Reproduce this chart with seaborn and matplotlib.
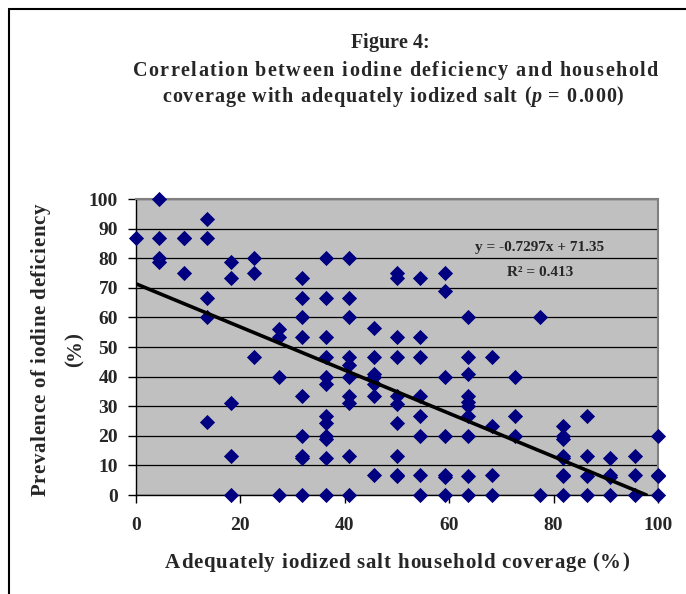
import numpy as np
import matplotlib
matplotlib.use("Agg")
import matplotlib.pyplot as plt
import seaborn as sns
from matplotlib.lines import Line2D
from matplotlib.font_manager import FontProperties, findfont
from matplotlib.ft2font import FT2Font

# household coverage with adequately iodized salt (%) and prevalence of iodine deficiency (%)
coverage = (
    [0.0]
    + [4.5] * 4
    + [9.1] * 3
    + [13.6] * 5
    + [18.2] * 5
    + [22.7] * 3
    + [27.3] * 4
    + [31.8] * 9
    + [36.4] * 12
    + [40.9] * 10
    + [45.5] * 7
    + [50.0] * 10
    + [54.5] * 8
    + [59.1] * 7
    + [63.6] * 10
    + [68.2] * 4
    + [72.7] * 3
    + [77.3] * 2
    + [81.8] * 8
    + [86.4] * 4
    + [90.9] * 4
    + [95.5] * 3
    + [100.0] * 4
)
deficiency = [
    86.7,
    100, 86.7, 80, 78.6,
    86.7, 86.7, 75,
    93.3, 86.7, 66.7, 60, 24.7,
    78.6, 73.3, 31, 13.3, 0,
    80, 75, 46.7,
    56, 53.3, 40, 0,
    73.3, 66.7, 60, 53.3, 33.3, 20, 13.3, 12.5, 0,
    80, 66.7, 53.3, 46.7, 40, 37.5, 26.7, 24.4, 20, 18.8, 12.5, 0,
    80, 66.7, 60, 46.7, 44, 40, 33.3, 31, 13.3, 0,
    56.3, 46.7, 41, 40, 37.5, 33.3, 6.7,
    75, 73.3, 53.3, 46.7, 33.3, 30.8, 24.4, 13.3, 6.7, 6.3,
    73.3, 53.3, 46.7, 33.3, 26.7, 20, 6.7, 0,
    75, 68.8, 40, 20, 6.7, 6.0, 0,
    60, 46.7, 41, 33.3, 31.5, 30, 26.7, 20, 6.3, 0,
    46.7, 23.3, 6.7, 0,
    40, 26.7, 20,
    60, 0,
    23.3, 20, 18.8, 13.3, 12.5, 6.7, 6.3, 0,
    26.7, 13.3, 6.3, 0,
    12.5, 6.7, 6.0, 0,
    13.3, 6.7, 0,
    20, 6.7, 6.3, 0,
]

# trend line as printed on the chart
slope = -0.7297
intercept = 71.35

x_ticks = [0, 20, 40, 60, 80, 100]
y_ticks = [0, 10, 20, 30, 40, 50, 60, 70, 80, 90, 100]

sns.set_theme(style="white")
plt.rcParams['font.family'] = ['Liberation Serif', 'DejaVu Serif']
plt.rcParams['font.weight'] = 'bold'

W, H = 686, 594
DPI = 100
fig = plt.figure(figsize=(W / DPI, H / DPI), dpi=DPI)
ax = fig.add_axes([136 / W, 99 / H, 522 / W, 296 / H])
ax.set_facecolor('#C0C0C0')

ax.yaxis.grid(True, color='black', linewidth=0.9)
ax.set_axisbelow(True)

sns.scatterplot(x=coverage, y=deficiency, marker='D', color='#000080',
                s=60, linewidth=0, ax=ax, clip_on=False, zorder=4)

line_x = np.array([0, -intercept / slope])
ax.plot(line_x, slope * line_x + intercept, color='black', linewidth=2.6, zorder=5)

ax.set_xlim(0, 100)
ax.set_ylim(0, 100)
ax.set_xticks(x_ticks)
ax.set_yticks(y_ticks)
ax.tick_params(axis='both', direction='out', length=6, width=1, color='black',
               labelsize=14, bottom=True, left=True)
ax.tick_params(axis='x', pad=10)
ax.tick_params(axis='y', pad=7)
for lab in ax.get_xticklabels() + ax.get_yticklabels():
    lab.set_fontweight('bold')

for side in ['left', 'bottom']:
    ax.spines[side].set_color('black')
    ax.spines[side].set_linewidth(1.0)
for side in ['top', 'right']:
    ax.spines[side].set_color('#808080')
    ax.spines[side].set_linewidth(1.5)

ax.text(0.774, 0.835, 'y = -0.7297x + 71.35', transform=ax.transAxes,
        ha='center', va='center', fontsize=11, fontweight='bold')
ax.text(0.774, 0.75, 'R² = 0.413', transform=ax.transAxes,
        ha='center', va='center', fontsize=11, fontweight='bold')


def fx(px):
    return px / W


def fy(py):
    return 1 - py / H


def spaced_text(cx, cy, segments, size, width, rotation=0):
    # the original lettering is tracked out, so place glyph by glyph
    chars = []
    for s, style in segments:
        fp = FontProperties(family='Liberation Serif', weight='bold', style=style, size=size)
        font = FT2Font(findfont(fp))
        font.set_size(size, DPI)
        for c in s:
            adv = font.load_char(ord(c)).linearHoriAdvance / 65536
            chars.append((c, fp, adv))
    natural = sum(a for _, _, a in chars)
    gap = max((width - natural) / (len(chars) - 1), 0)
    total = natural + gap * (len(chars) - 1)
    pos = -total / 2
    for c, fp, adv in chars:
        if rotation == 0:
            x, y = cx + pos, cy
        else:
            x, y = cx, cy - pos
        fig.text(fx(x), fy(y), c, fontproperties=fp, rotation=rotation,
                 rotation_mode='anchor', ha='left', va='center_baseline')
        pos += adv + gap


spaced_text(390, 40, [('Figure 4:', 'normal')], 14.5, 76)
spaced_text(395, 68, [('Correlation between iodine deficiency and household', 'normal')], 14.5, 525)
spaced_text(393, 94, [('coverage with adequately iodized salt (', 'normal'), ('p', 'italic'),
                      (' = 0.000)', 'normal')], 14.5, 461)

spaced_text(397, 560, [('Adequately iodized salt household coverage (%)', 'normal')], 15, 464)
spaced_text(38, 350, [('Prevalence of iodine deficiency', 'normal')], 15, 292, rotation=90)
spaced_text(72, 350, [('(%)', 'normal')], 15, 34, rotation=90)

# outer frame (top and left edges only)
fig.add_artist(Line2D([fx(9), fx(9)], [fy(9), 0], color='black', linewidth=1.5))
fig.add_artist(Line2D([fx(9), 1], [fy(9), fy(9)], color='black', linewidth=1.5))

fig.savefig('out.png', dpi=DPI)
